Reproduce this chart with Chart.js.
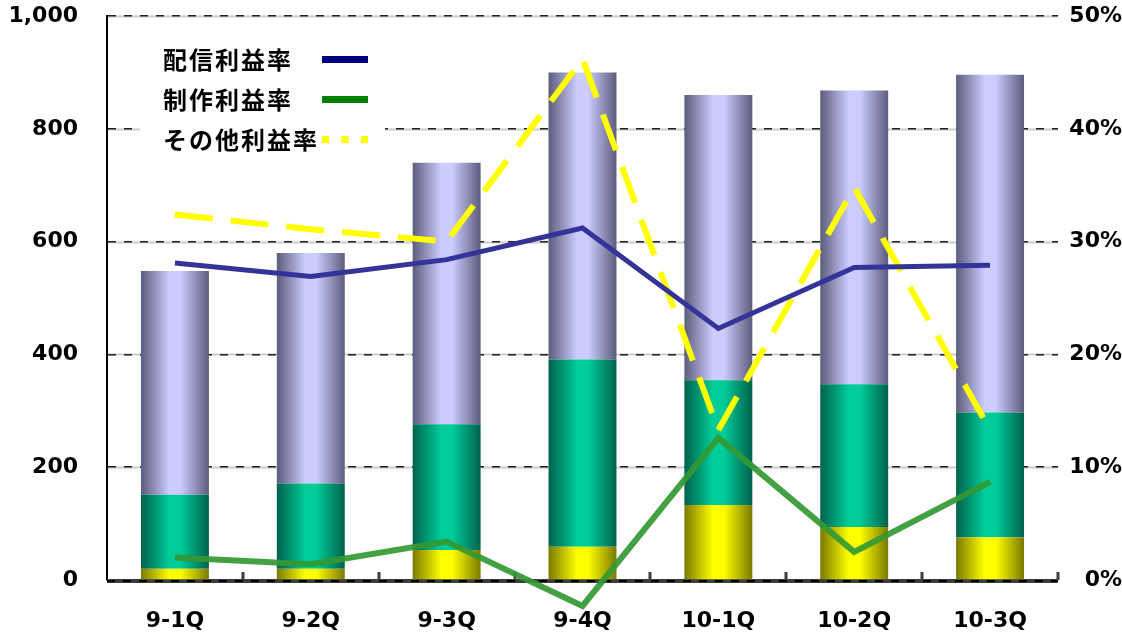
<!DOCTYPE html>
<html>
<head>
<meta charset="utf-8">
<title>利益率推移</title>
<script src="https://cdn.jsdelivr.net/npm/chart.js@4.4.1/dist/chart.umd.min.js"></script>
<style>
    body { margin: 0; background: #fff; }
</style>
</head>
<body>
<canvas id="myChart" width="1122" height="633"></canvas>
<script>
var categories = ['9-1Q', '9-2Q', '9-3Q', '9-4Q', '10-1Q', '10-2Q', '10-3Q'];

// stacked sales, bottom to top
var otherSales = [20, 20, 53, 59, 133, 94, 76];
var productionSales = [131, 151, 223, 332, 221, 253, 221];
var distributionSales = [397, 409, 464, 509, 506, 521, 599];

// margins in %
var distributionMargin = [28.1, 26.9, 28.4, 31.2, 22.3, 27.7, 27.9];
var productionMargin = [2.0, 1.4, 3.4, -2.3, 12.6, 2.5, 8.7];
var otherMargin = [32.4, 31.1, 30.0, 46.2, 13.3, 34.8, 13.3];

var leftTicks = [0, 200, 400, 600, 800, 1000];
var rightTicks = [0, 10, 20, 30, 40, 50];

var legendItems = [
    { label: '配信利益率', color: '#000080', dotted: false },
    { label: '制作利益率', color: '#008000', dotted: false },
    { label: 'その他利益率', color: '#ffff00', dotted: true }
];

var tickFont = { family: '"DejaVu Sans", Verdana, sans-serif', size: 22, weight: 'bold' };

function $each(list, fn) {
    for (var i = 0; i < list.length; i++) {
        fn(list[i], i);
    }
}

// cylinder look: dark edges, bright middle
function barFill(dark, light) {
    return function (context) {
        var chart = context.chart;
        var area = chart.chartArea;
        if (!area) {
            return light;
        }
        var x = chart.scales.x.getPixelForValue(context.dataIndex);
        var w = area.width / categories.length * 0.5;
        var g = chart.ctx.createLinearGradient(x - w / 2, 0, x + w / 2, 0);
        g.addColorStop(0, dark);
        g.addColorStop(0.42, light);
        g.addColorStop(0.58, light);
        g.addColorStop(1, dark);
        return g;
    };
}

var gridUnderlay = {
    id: 'gridUnderlay',
    beforeDraw: function (chart) {
        var c = chart.ctx, a = chart.chartArea, y = chart.scales.y;
        c.save();
        c.strokeStyle = '#cccccc';
        c.lineWidth = 2;
        $each(leftTicks, function (v) {
            var py = Math.round(y.getPixelForValue(v)) + 0.5;
            c.beginPath();
            c.moveTo(a.left, py);
            c.lineTo(a.right, py);
            c.stroke();
        });
        c.restore();
    }
};

var axisMarks = {
    id: 'axisMarks',
    beforeDatasetsDraw: function (chart) {
        var c = chart.ctx, a = chart.chartArea;
        var step = a.width / categories.length;
        c.save();
        // bottom axis
        c.fillStyle = '#3c3c3c';
        c.fillRect(a.left, a.bottom - 1, a.width, 4);
        c.strokeStyle = '#000';
        c.lineWidth = 2;
        c.setLineDash([8, 8]);
        c.beginPath();
        c.moveTo(a.left, a.bottom + 1);
        c.lineTo(a.right, a.bottom + 1);
        c.stroke();
        c.setLineDash([]);
        // small upward ticks between categories
        c.strokeStyle = '#3c3c3c';
        c.lineWidth = 3;
        for (var i = 1; i <= categories.length; i++) {
            var px = Math.round(a.left + step * i);
            c.beginPath();
            c.moveTo(px, a.bottom);
            c.lineTo(px, a.bottom - 8);
            c.stroke();
        }

        // legend box
        c.fillStyle = '#fff';
        c.fillRect(a.left + 33, a.top + 16, 245, 126);
        c.font = 'bold 24px "Noto Sans CJK JP", sans-serif';
        c.letterSpacing = '2px';
        c.textBaseline = 'middle';
        $each(legendItems, function (item, idx) {
            var ty = a.top + 44 + idx * 40;
            c.fillStyle = '#000';
            c.fillText(item.label, a.left + 56, ty);
            c.fillStyle = item.color;
            if (item.dotted) {
                for (var k = 0; k < 3; k++) {
                    c.fillRect(a.left + 215 + k * 19.5, ty - 4, 7, 7);
                }
            } else {
                c.fillRect(a.left + 215, ty - 4, 46, 7);
            }
        });
        c.restore();
    }
};

function noVerticalPadding(scale) {
    scale.paddingTop = 0;
    scale.paddingBottom = 0;
}

const config = {
    data: {
        labels: categories,
        datasets: [
            {
                type: 'line',
                label: '配信利益率',
                data: distributionMargin,
                yAxisID: 'y1',
                borderColor: '#333399',
                borderWidth: 5,
                pointRadius: 0,
                tension: 0,
                order: 0
            },
            {
                type: 'line',
                label: '制作利益率',
                data: productionMargin,
                yAxisID: 'y1',
                borderColor: 'rgba(51, 153, 51, 0.92)',
                borderWidth: 6,
                pointRadius: 0,
                tension: 0,
                clip: false,
                order: 0
            },
            {
                type: 'line',
                label: 'その他利益率',
                data: otherMargin,
                yAxisID: 'y1',
                borderColor: '#ffff00',
                borderWidth: 6,
                borderDash: [38, 18],
                borderCapStyle: 'butt',
                pointRadius: 0,
                tension: 0,
                order: 0
            },
            {
                type: 'bar',
                label: 'その他',
                data: otherSales,
                backgroundColor: barFill('#7a7a00', '#ffff00'),
                barPercentage: 0.5,
                categoryPercentage: 1,
                order: 1
            },
            {
                type: 'bar',
                label: '制作',
                data: productionSales,
                backgroundColor: barFill('#00624c', '#00cc99'),
                barPercentage: 0.5,
                categoryPercentage: 1,
                order: 1
            },
            {
                type: 'bar',
                label: '配信',
                data: distributionSales,
                backgroundColor: barFill('#5c5c7c', '#ccccff'),
                barPercentage: 0.5,
                categoryPercentage: 1,
                order: 1
            }
        ]
    },
    options: {
        responsive: false,
        animation: false,
        layout: { padding: { top: 16, right: 0, bottom: 0, left: 0 } },
        plugins: {
            legend: { display: false },
            tooltip: { enabled: false }
        },
        scales: {
            x: {
                stacked: true,
                grid: { display: false, drawTicks: false },
                border: { display: false },
                ticks: { font: tickFont, color: '#000', padding: 28 },
                afterFit: function (scale) { scale.height = 53; }
            },
            y: {
                stacked: true,
                position: 'left',
                min: 0,
                max: 1000,
                afterBuildTicks: function (scale) {
                    scale.ticks = leftTicks.map(function (v) { return { value: v }; });
                },
                grid: {
                    color: '#222',
                    lineWidth: 1.5,
                    drawTicks: false
                },
                // v4 uses border.dash for the grid lines
                border: { display: true, color: '#000', width: 2, dash: [8, 8] },
                ticks: {
                    font: tickFont,
                    color: '#000',
                    padding: 29,
                    callback: function (v) { return v.toLocaleString('en-US'); }
                },
                afterFit: function (scale) {
                    scale.width = 107;
                    noVerticalPadding(scale);
                }
            },
            y1: {
                position: 'right',
                min: 0,
                max: 50,
                afterBuildTicks: function (scale) {
                    scale.ticks = rightTicks.map(function (v) { return { value: v }; });
                },
                grid: { display: false, drawTicks: false },
                border: { display: false },
                ticks: {
                    font: tickFont,
                    color: '#000',
                    crossAlign: 'far',
                    callback: function (v) { return v + '%'; }
                },
                afterFit: function (scale) {
                    scale.width = 64;
                    noVerticalPadding(scale);
                }
            }
        }
    },
    plugins: [gridUnderlay, axisMarks]
};

const ctx = document.getElementById('myChart');
new Chart(ctx, config);
</script>
</body>
</html>
